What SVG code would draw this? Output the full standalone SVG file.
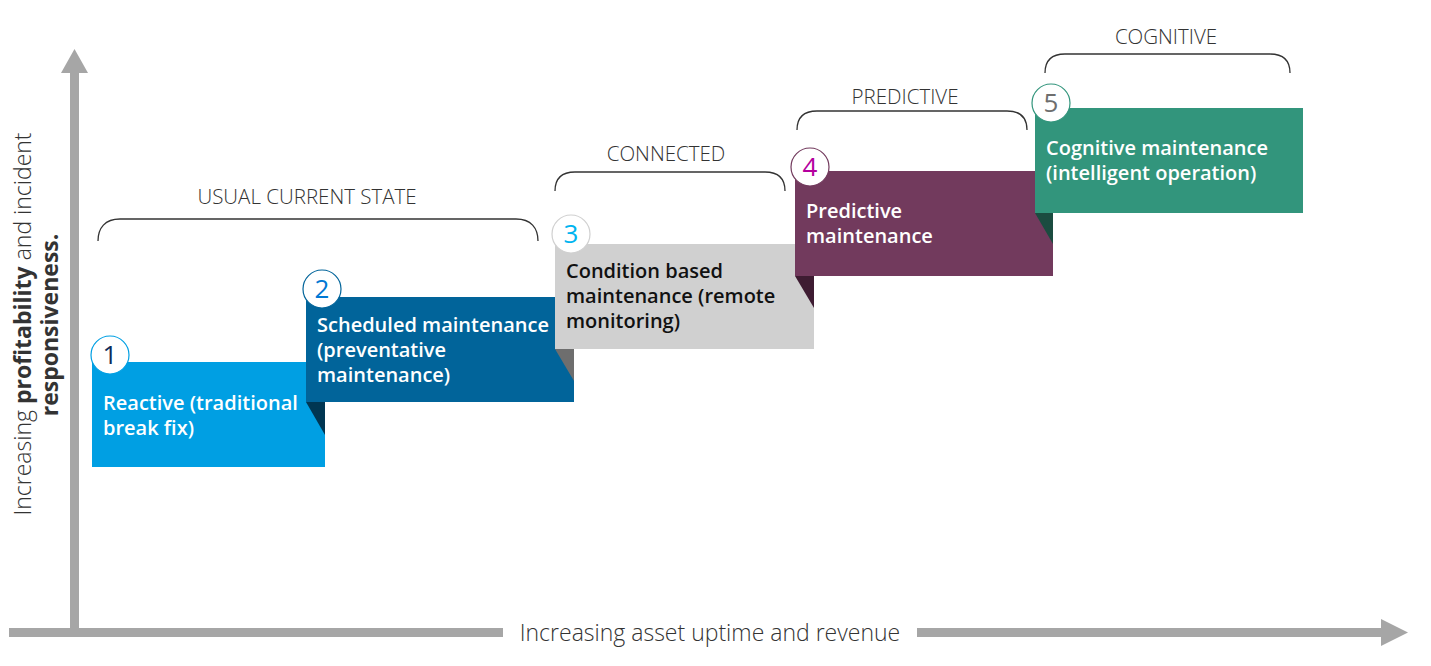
<svg xmlns="http://www.w3.org/2000/svg" width="1431" height="666" viewBox="0 0 1431 666">
<style>
.lbl{font-family:"Open Sans","Liberation Sans",sans-serif;font-weight:600;font-size:20px;fill:#ffffff}
.dark{fill:#111111}
.num{font-family:"Open Sans","Liberation Sans",sans-serif;font-size:26px;text-anchor:middle}
.ring{fill:#ffffff;stroke-width:1.2}
.brk{fill:none;stroke:#333333;stroke-width:1.3}
.cap{font-family:"Open Sans","Liberation Sans",sans-serif;font-weight:300;font-size:20.5px;fill:#333333;text-anchor:middle}
.axis{fill:#a6a6a6}
.axt{font-family:"Open Sans","Liberation Sans",sans-serif;font-weight:300;font-size:23px;fill:#333333;text-anchor:middle}
.bold{font-weight:700}
</style>
<rect width="1431" height="666" fill="#ffffff"/>

<g id="axes">
  <rect class="axis" x="70" y="72" width="9" height="565"/>
  <polygon class="axis" points="61,73 88,73 74.5,49"/>
  <rect class="axis" x="9" y="628" width="494" height="9"/>
  <rect class="axis" x="917" y="628" width="465" height="9"/>
  <polygon class="axis" points="1381,619 1381,646 1408,632.5"/>
  <text class="axt" x="710" y="641">Increasing asset uptime and revenue</text>
  <text class="axt" transform="translate(31,324) rotate(-90)">Increasing <tspan class="bold">profitability</tspan> and incident</text>
  <text class="axt bold" transform="translate(58,325) rotate(-90)">responsiveness.</text>
</g>

<g id="bracket-usual">
  <path class="brk" d="M98,241 C98,228 105,219 120,219 H516 C531,219 538,228 538,241"/>
  <text class="cap" x="307" y="204">USUAL CURRENT STATE</text>
</g>
<g id="bracket-connected">
  <path class="brk" d="M555,191 C555,179 561,172 575,172 H765 C779,172 785,179 785,191"/>
  <text class="cap" x="666" y="161">CONNECTED</text>
</g>
<g id="bracket-predictive">
  <path class="brk" d="M797,130 C797,118 803,111 817,111 H1007 C1021,111 1027,118 1027,130"/>
  <text class="cap" x="905" y="104">PREDICTIVE</text>
</g>
<g id="bracket-cognitive">
  <path class="brk" d="M1045,73 C1045,61 1051,54 1065,54 H1270 C1284,54 1290,61 1290,73"/>
  <text class="cap" x="1166" y="44">COGNITIVE</text>
</g>

<g id="step1">
  <rect x="92" y="362" width="233" height="105" fill="#009fe3"/>
  <circle class="ring" cx="110" cy="355" r="19" stroke="#009fe3"/>
  <text class="num" x="110" y="364" fill="#0d2b5a">1</text>
  <text class="lbl" x="103" y="410">Reactive (traditional</text>
  <text class="lbl" x="103" y="435">break fix)</text>
</g>

<g id="step2">
  <polygon points="306,402 325,402 325,435" fill="#003652"/>
  <rect x="306" y="297" width="268" height="105" fill="#01649a"/>
  <circle class="ring" cx="322" cy="289" r="19" stroke="#01649a"/>
  <text class="num" x="322" y="298" fill="#0078d4">2</text>
  <text class="lbl" x="317" y="332">Scheduled maintenance</text>
  <text class="lbl" x="317" y="357">(preventative</text>
  <text class="lbl" x="317" y="382">maintenance)</text>
</g>

<g id="step3">
  <polygon points="555,349 574,349 574,381" fill="#6e6e6e"/>
  <rect x="555" y="244" width="259" height="105" fill="#d0d0d0"/>
  <circle class="ring" cx="571" cy="234" r="19" stroke="#d0d0d0"/>
  <text class="num" x="571" y="243" fill="#00b4f0">3</text>
  <text class="lbl dark" x="566" y="278">Condition based</text>
  <text class="lbl dark" x="566" y="303">maintenance (remote</text>
  <text class="lbl dark" x="566" y="328">monitoring)</text>
</g>

<g id="step4">
  <polygon points="795,276 814,276 814,308" fill="#3e1c32"/>
  <rect x="795" y="171" width="258" height="105" fill="#723a5d"/>
  <circle class="ring" cx="810" cy="167" r="19" stroke="#723a5d"/>
  <text class="num" x="810" y="176" fill="#b4009e">4</text>
  <text class="lbl" x="806" y="218">Predictive</text>
  <text class="lbl" x="806" y="243">maintenance</text>
</g>

<g id="step5">
  <polygon points="1035,213 1053,213 1053,244" fill="#1b4c40"/>
  <rect x="1035" y="108" width="268" height="105" fill="#32957c"/>
  <circle class="ring" cx="1051" cy="103" r="19" stroke="#32957c"/>
  <text class="num" x="1051" y="112" fill="#6e6e6e">5</text>
  <text class="lbl" x="1046" y="155">Cognitive maintenance</text>
  <text class="lbl" x="1046" y="180">(intelligent operation)</text>
</g>
</svg>
